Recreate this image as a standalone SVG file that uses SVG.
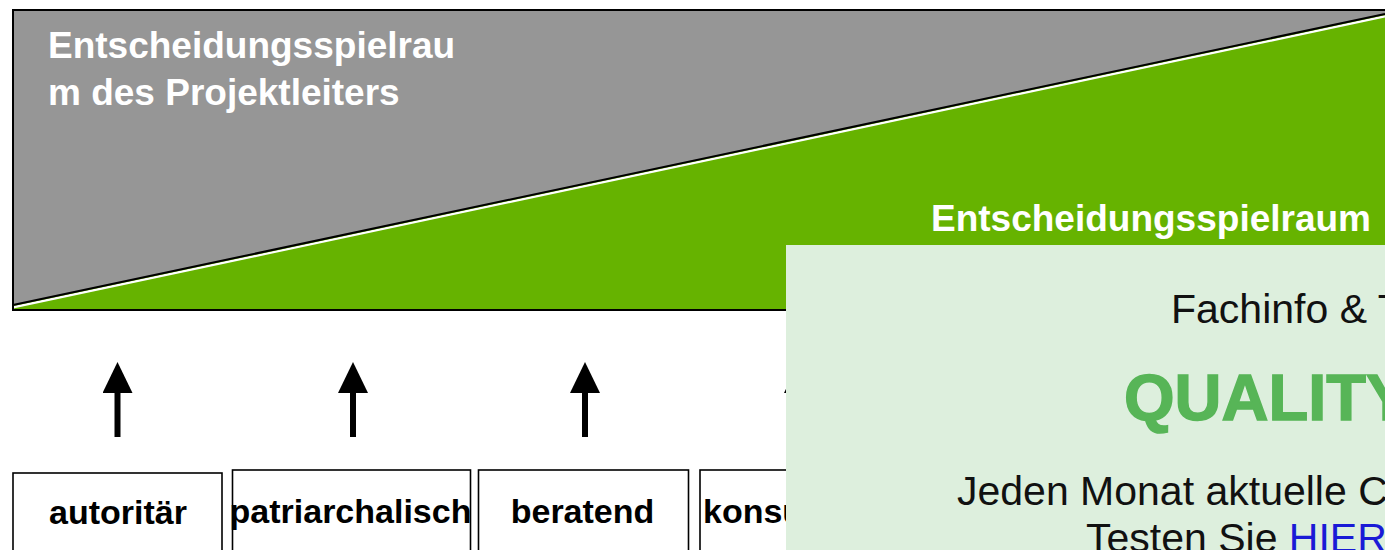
<svg xmlns="http://www.w3.org/2000/svg" width="1385" height="550" viewBox="0 0 1385 550">
  <defs>
    <style>
      .lbl { font-family: "Liberation Sans", Arial, sans-serif; font-weight: bold; }
      .white { fill: #ffffff; font-size: 37px; }
      .box rect { fill: #ffffff; stroke: #000000; stroke-width: 1.6; }
      .box text { font-size: 34px; fill: #000000; text-anchor: middle; }
      .ad { font-family: "Liberation Sans", Arial, sans-serif; font-size: 41px; fill: #111111; }
      .arrow { stroke: #000000; stroke-width: 6; fill: none; }
    </style>
    <marker id="head" viewBox="0 0 31 30" markerWidth="31" markerHeight="30" refX="0" refY="15" orient="auto" markerUnits="userSpaceOnUse">
      <path d="M0,0 L31,15 L0,30 z" fill="#000000"/>
    </marker>
  </defs>

  <rect x="0" y="0" width="1385" height="550" fill="#ffffff"/>

  <g id="scale">
    <rect x="13" y="10" width="1380" height="300" fill="#969696"/>
    <polygon points="13,305 1385,14 1385,310 13,310" fill="#66b300"/>
    <line x1="13" y1="307.4" x2="1385" y2="16.4" stroke="#ffffff" stroke-width="2.2"/>
    <line x1="13" y1="305" x2="1385" y2="14" stroke="#000000" stroke-width="2"/>
    <line x1="12" y1="10" x2="1385" y2="10" stroke="#000000" stroke-width="2"/>
    <line x1="13" y1="9" x2="13" y2="311" stroke="#000000" stroke-width="2"/>
    <line x1="12" y1="310" x2="1385" y2="310" stroke="#000000" stroke-width="2"/>
    <text class="lbl white" x="48" y="58">Entscheidungsspielrau</text>
    <text class="lbl white" x="48" y="105">m des Projektleiters</text>
    <text class="lbl white" x="931" y="231">Entscheidungsspielraum</text>
  </g>

  <g id="connectors">
    <line class="arrow" x1="117.5" y1="437" x2="117.5" y2="393" marker-end="url(#head)"/>
    <line class="arrow" x1="353" y1="437" x2="353" y2="393" marker-end="url(#head)"/>
    <line class="arrow" x1="585" y1="437" x2="585" y2="393" marker-end="url(#head)"/>
    <line class="arrow" x1="799" y1="437" x2="799" y2="393" marker-end="url(#head)"/>
  </g>

  <g id="node-autoritaer" class="box lbl">
    <rect x="13" y="473" width="209" height="90"/>
    <text x="118" y="524">autoritär</text>
  </g>
  <g id="node-patriarchalisch" class="box lbl">
    <rect x="232.5" y="470" width="238" height="90"/>
    <text x="350.5" y="523">patriarchalisch</text>
  </g>
  <g id="node-beratend" class="box lbl">
    <rect x="478.5" y="470" width="210" height="90"/>
    <text x="582.5" y="523">beratend</text>
  </g>
  <g id="node-konsu" class="box lbl">
    <rect x="700" y="470" width="210" height="90"/>
    <text x="703" y="523" style="text-anchor:start">konsu</text>
  </g>

  <g id="overlay">
    <rect x="786" y="245" width="610" height="320" fill="#ddefdd"/>
    <text class="ad" x="1171" y="323">Fachinfo &amp; T</text>
    <text x="1124" y="420" style="font-family:'Liberation Sans', Arial, sans-serif; font-weight:bold; font-size:65px; fill:#57b557; stroke:#57b557; stroke-width:1.5">QUALITY</text>
    <text class="ad" x="957" y="505">Jeden Monat aktuelle Ch</text>
    <text class="ad" x="1086" y="552">Testen Sie <tspan fill="#1a1ad6">HIER</tspan></text>
  </g>
</svg>
